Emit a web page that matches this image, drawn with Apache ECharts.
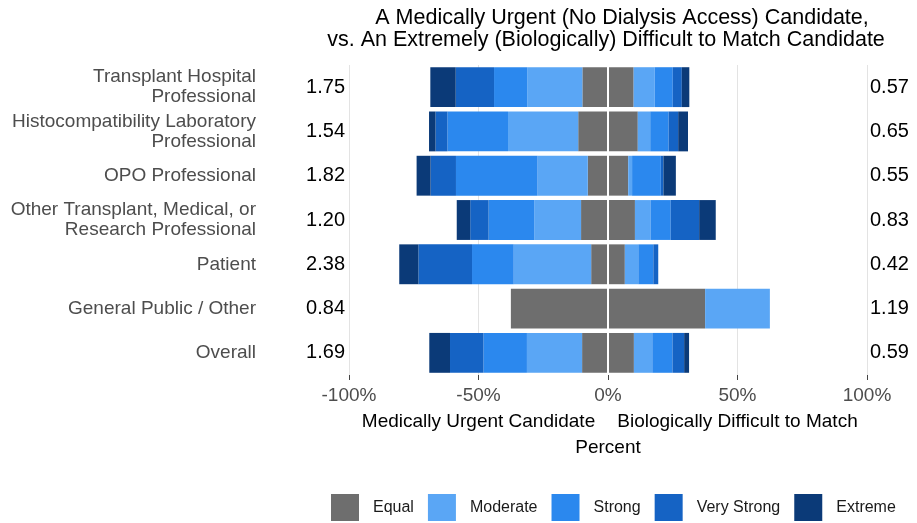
<!DOCTYPE html>
<html>
<head>
<meta charset="utf-8">
<script src="https://cdn.jsdelivr.net/npm/echarts@6/dist/echarts.min.js"></script>
<style>
  html, body { margin: 0; padding: 0; background: #fff; }
  #main { width: 917px; height: 523px; }
</style>
</head>
<body>
<div id="main"></div>
<script>
// groups, top to bottom
const groups = [
  'Transplant Hospital\nProfessional',
  'Histocompatibility Laboratory\nProfessional',
  'OPO Professional',
  'Other Transplant, Medical, or\nResearch Professional',
  'Patient',
  'General Public / Other',
  'Overall'
];
const ratioLeft = [1.75, 1.54, 1.82, 1.20, 2.38, 0.84, 1.69];
const ratioRight = [0.57, 0.65, 0.55, 0.83, 0.42, 1.19, 0.59];

// percent of answers; "Equal" is split half to each side
const equal = [19.8, 23.0, 15.6, 20.8, 13.0, 75.0, 20.0];
// favouring the medically urgent candidate (left)
const urgModerate = [21.3, 27.1, 19.4, 18.1, 29.9, 0, 21.3];
const urgStrong = [12.8, 23.4, 31.5, 17.6, 16.1, 0, 16.8];
const urgVeryStrong = [14.8, 4.6, 9.8, 7.1, 20.7, 0, 12.9];
const urgExtreme = [9.8, 2.5, 5.4, 5.2, 7.4, 0, 8.0];
// favouring the biologically difficult to match candidate (right)
const bioModerate = [8.1, 4.8, 1.5, 6.0, 5.2, 25.0, 7.1];
const bioStrong = [7.0, 7.1, 11.1, 7.8, 5.8, 0, 7.8];
const bioVeryStrong = [3.5, 3.7, 1.0, 11.0, 1.9, 0, 4.5];
const bioExtreme = [2.9, 3.8, 4.8, 6.4, 0, 0, 1.9];

const levels = ['Equal', 'Moderate', 'Strong', 'Very Strong', 'Extreme'];
const colors = ['#6e6e6e', '#5aa6f5', '#2b88ee', '#1563c4', '#0b3a78'];

const font = 'Liberation Sans';
const chart = echarts.init(document.getElementById('main'));

const leftData = [equal.map(v => -v / 2), urgModerate.map(v => -v), urgStrong.map(v => -v),
  urgVeryStrong.map(v => -v), urgExtreme.map(v => -v)];
const rightData = [equal.map(v => v / 2), bioModerate, bioStrong, bioVeryStrong, bioExtreme];

const series = [];
levels.forEach((lv, i) => {
  [leftData[i], rightData[i]].forEach(d => {
    series.push({
      name: lv,
      type: 'bar',
      stack: 'all',
      barWidth: '90%',
      yAxisIndex: 0,
      itemStyle: { color: colors[i] },
      data: d
    });
  });
});
// white line at 0 over the bars
series[series.length - 1].markLine = {
  silent: true,
  symbol: 'none',
  label: { show: false },
  lineStyle: { color: '#fff', width: 2, type: 'solid' },
  data: [{ xAxis: 0 }]
};

const option = {
  animation: false,
  textStyle: { fontFamily: font },
  title: [
    { text: 'A Medically Urgent (No Dialysis Access) Candidate,', left: 617, top: 2, textAlign: 'center',
      textStyle: { fontFamily: font, fontSize: 21.5, fontWeight: 'normal', color: '#000' } },
    { text: 'vs. An Extremely (Biologically) Difficult to Match Candidate', left: 601, top: 24, textAlign: 'center',
      textStyle: { fontFamily: font, fontSize: 21.5, fontWeight: 'normal', color: '#000' } }
  ],
  legend: {
    data: levels,
    left: 331,
    top: 489,
    width: 620,
    padding: [5, 5, 5, 0],
    itemWidth: 28,
    itemHeight: 27,
    itemGap: 14,
    icon: 'rect',
    textStyle: { fontFamily: font, fontSize: 16, color: '#1a1a1a', padding: [0, 0, 0, 9] }
  },
  grid: { left: 349, right: 50, top: 65, bottom: 148 },
  xAxis: [
    {
      type: 'value', min: -100, max: 100, interval: 50,
      axisLine: { show: false },
      axisTick: { show: true, length: 5, lineStyle: { color: '#444' } },
      axisLabel: { formatter: v => v + '%', color: '#4d4d4d', fontSize: 19, margin: 11, fontFamily: font },
      splitLine: { show: true, lineStyle: { color: ['#e3e3e3', '#e3e3e3', '#ffffff', '#e3e3e3', '#e3e3e3'], width: 1 } },
      name: 'Percent', nameLocation: 'middle', nameGap: 63,
      nameTextStyle: { color: '#000', fontSize: 19, fontFamily: font }
    },
    {
      type: 'value', min: -100, max: 100, interval: 50, position: 'bottom', offset: 29,
      axisLine: { show: false }, axisTick: { show: false }, splitLine: { show: false },
      axisLabel: {
        color: '#000', fontSize: 19, fontFamily: font, margin: 8,
        formatter: v => v === -50 ? 'Medically Urgent Candidate' : (v === 50 ? 'Biologically Difficult to Match' : '')
      }
    }
  ],
  yAxis: [
    {
      type: 'category', data: groups, inverse: true, position: 'left', offset: 85,
      axisLine: { show: false }, axisTick: { show: false },
      axisLabel: { color: '#4d4d4d', fontSize: 19, lineHeight: 20, margin: 8, fontFamily: font }
    },
    {
      type: 'category', data: ratioLeft.map(v => v.toFixed(2)), inverse: true, position: 'left',
      axisLine: { show: false },
      axisTick: { show: true, length: 3, alignWithLabel: true, lineStyle: { color: '#bbb' } },
      axisLabel: { color: '#000', fontSize: 20, margin: 4, fontFamily: font }
    },
    {
      type: 'category', data: ratioRight.map(v => v.toFixed(2)), inverse: true, position: 'right',
      axisLine: { show: false }, axisTick: { show: false },
      axisLabel: { color: '#000', fontSize: 20, margin: 3, fontFamily: font }
    }
  ],
  series: series
};

option && chart.setOption(option);
</script>
</body>
</html>
